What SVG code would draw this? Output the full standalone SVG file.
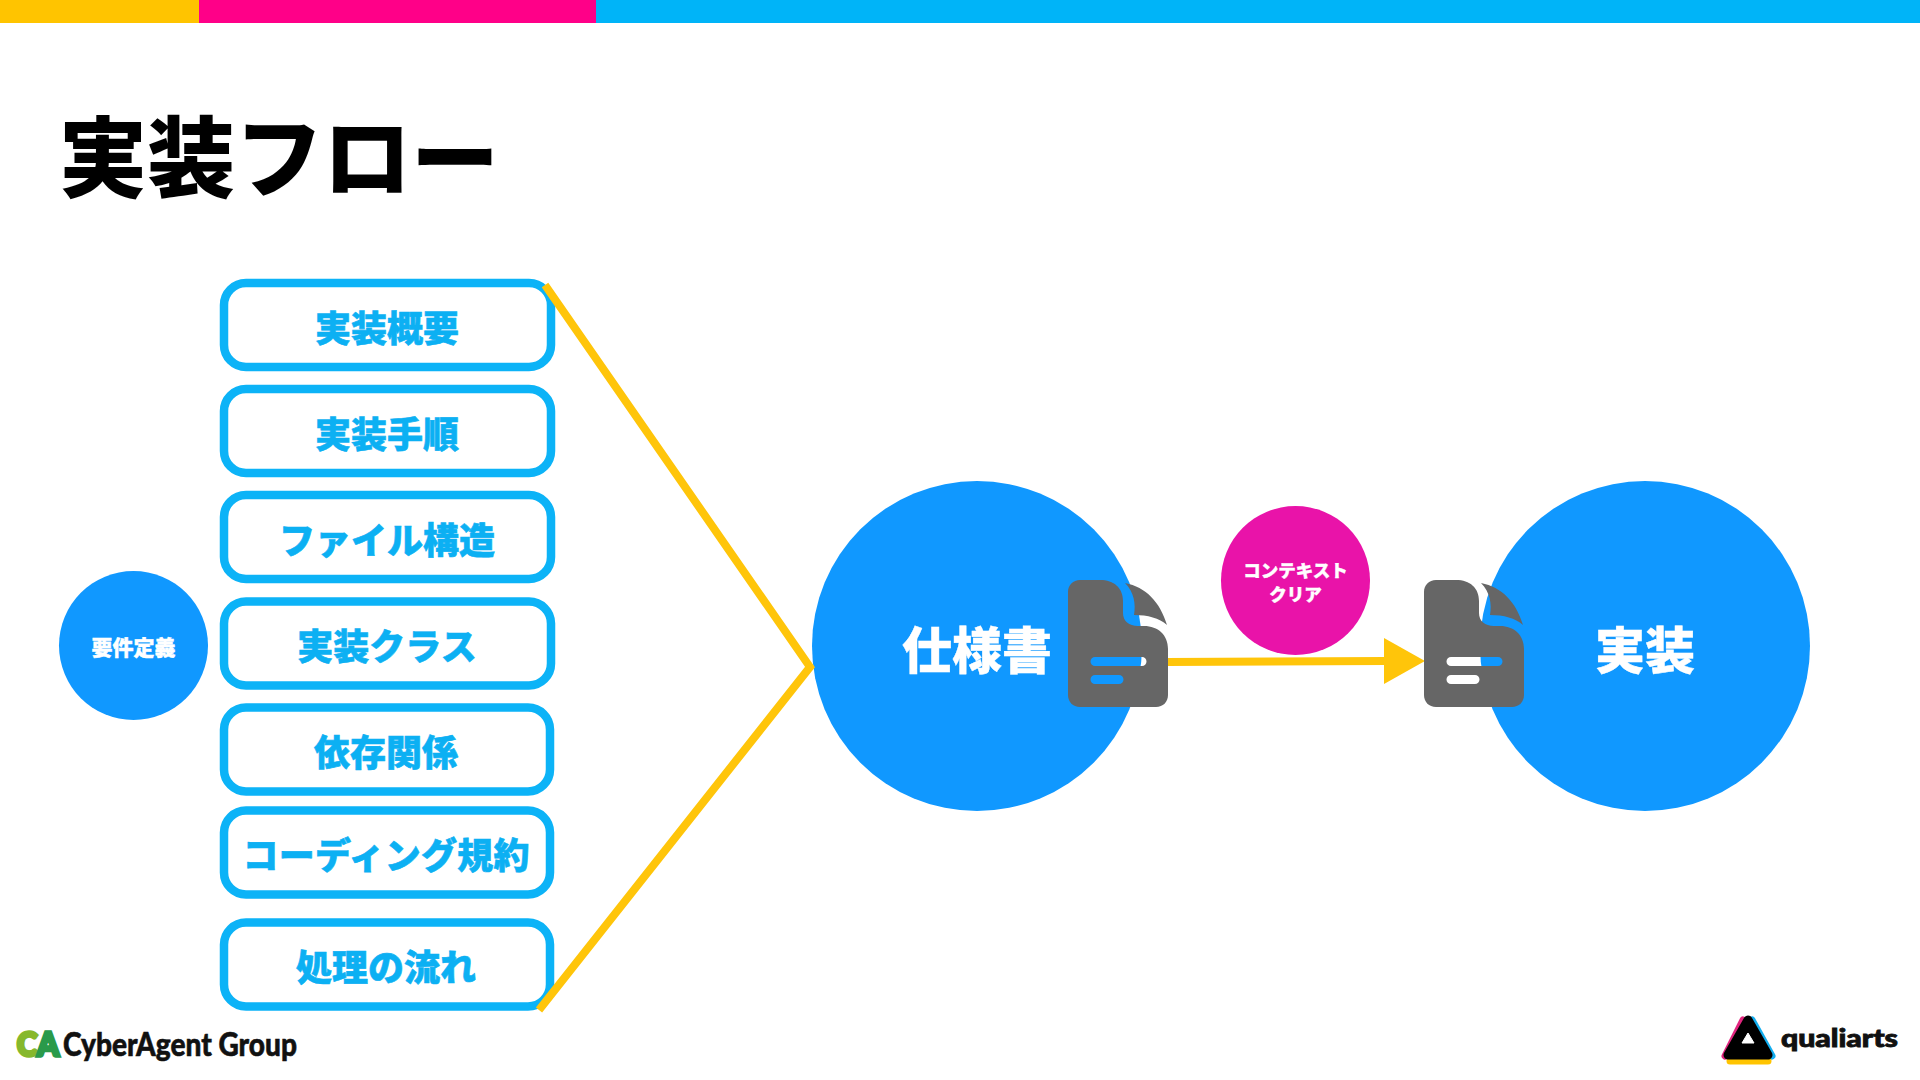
<svg xmlns="http://www.w3.org/2000/svg" width="1920" height="1080" viewBox="0 0 1920 1080">
<style>
text{font-family:"Noto Sans CJK JP","Noto Sans",sans-serif;font-weight:900;text-anchor:middle}
.box{fill:#fff;stroke:#0cb3f7;stroke-width:8.500}
.bt{font-size:36px;fill:#0cb0f3;stroke:#0cb0f3;stroke-width:.6px}
.w{fill:#fff;stroke:#fff;stroke-width:.4px}
.big{fill:#1098ff}
.conn{fill:none;stroke:#ffc50a;stroke-width:8}
.doc{fill:#666;fill-rule:evenodd}
.logo{font-family:"Lato","Noto Sans",sans-serif;font-weight:900;text-anchor:start;fill:#111;stroke:#111;stroke-width:.6px}
</style>
<defs>
<g id="docicon">
<path class="doc" d="M12 0H32C46 0 55 8 55 21V33C55 41 61 46 70 46H76C90 46 100 55 100 69V115C100 122 95 127 88 127H12C5 127 0 122 0 115V12C0 5 5 0 12 0ZM27 77A4.500 4.500 0 0 0 27 86H74A4.500 4.500 0 0 0 74 77ZM27 95A4.500 4.500 0 0 0 27 104H51A4.500 4.500 0 0 0 51 95Z"/>
<path class="doc" d="M57 3C78 7 92 22 99 45C91 38 80 35 66 35C68 24 66 12 57 3Z"/>
</g>
</defs>
<rect width="1920" height="1080" fill="#fff"/>
<rect x="0" y="0" width="199" height="23" fill="#ffc400"/>
<rect x="199" y="0" width="397" height="23" fill="#ff0088"/>
<rect x="596" y="0" width="1324" height="23" fill="#00b4f8"/>
<text x="279" y="190" font-size="88" fill="#000">実装フロー</text>

<g id="node-requirements"><circle cx="133.500" cy="645.500" r="74.500" class="big"/><text x="133.500" y="655" font-size="21" class="w">要件定義</text></g>
<g id="node-b1"><rect x="224" y="283" width="327" height="84" rx="22" class="box"/><text x="387" y="342" class="bt">実装概要</text></g>
<g id="node-b2"><rect x="224" y="389" width="327" height="84" rx="22" class="box"/><text x="387" y="448" class="bt">実装手順</text></g>
<g id="node-b3"><rect x="224" y="495" width="327" height="84" rx="22" class="box"/><text x="387" y="554" class="bt">ファイル構造</text></g>
<g id="node-b4"><rect x="224" y="601.500" width="327" height="84" rx="22" class="box"/><text x="387" y="660" class="bt">実装クラス</text></g>
<g id="node-b5"><rect x="224" y="707.500" width="326" height="84" rx="22" class="box"/><text x="386" y="766" class="bt">依存関係</text></g>
<g id="node-b6"><rect x="224" y="810.500" width="326" height="84" rx="22" class="box"/><text x="386" y="869" textLength="287" class="bt">コーディング規約</text></g>
<g id="node-b7"><rect x="224" y="922.500" width="326" height="84" rx="22" class="box"/><text x="386" y="981" class="bt">処理の流れ</text></g>

<g id="node-spec"><circle cx="977" cy="646" r="165" class="big"/><text x="977" y="669" font-size="50" class="w">仕様書</text></g>
<g id="node-impl"><circle cx="1645" cy="646" r="165" class="big"/><text x="1645" y="669" font-size="50" class="w">実装</text></g>
<g id="node-clear"><circle cx="1295.500" cy="580.500" r="74.500" fill="#e913a9"/><text x="1295.500" y="577" font-size="17.500" class="w">コンテキスト</text><text x="1295.500" y="601" font-size="17.500" class="w">クリア</text></g>

<g id="connectors">
<polyline class="conn" points="545,285 810,667 539,1010"/>
<line class="conn" x1="1167" y1="662" x2="1386" y2="661"/>
<polygon points="1384,638 1425,661 1384,684" fill="#ffc50a"/>
</g>
<use href="#docicon" x="1068" y="580"/>
<use href="#docicon" x="1424" y="580"/>

<g id="logo-ca">
<text class="logo" x="17" y="1056" font-size="32" textLength="42" lengthAdjust="spacingAndGlyphs" style="stroke-width:3.500px;fill:#86b82c;stroke:#86b82c"><tspan>C</tspan><tspan style="fill:#2a9a4a;stroke:#2a9a4a">A</tspan></text>
<text class="logo" x="63" y="1056" font-size="32" textLength="234" lengthAdjust="spacingAndGlyphs">CyberAgent Group</text>
</g>
<g id="logo-qa">
<path d="M1743 1020 L1725 1056" stroke="#e2267f" stroke-width="7" stroke-linecap="round" fill="none"/>
<path d="M1752 1020 L1772 1056" stroke="#12aef0" stroke-width="7" stroke-linecap="round" fill="none"/>
<path d="M1730 1061 H1768" stroke="#ffc400" stroke-width="7" stroke-linecap="round" fill="none"/>
<path d="M1748 1020 L1768 1055 H1728 Z" fill="#000" stroke="#000" stroke-width="9" stroke-linejoin="round"/>
<path d="M1748 1033 L1754 1043 H1742 Z" fill="#fff" stroke="#fff" stroke-width="1"/>
<text class="logo" x="1781" y="1047" font-size="25" textLength="117" lengthAdjust="spacingAndGlyphs" style="stroke-width:.9px">qualiarts</text>
</g>
</svg>
